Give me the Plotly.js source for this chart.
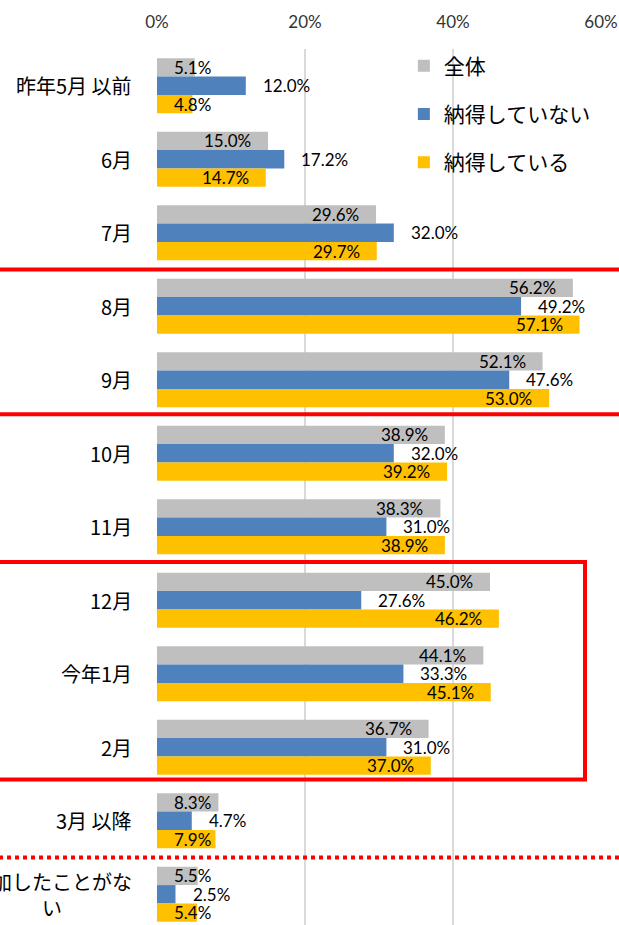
<!DOCTYPE html>
<html><head><meta charset="utf-8">
<script src="https://cdn.plot.ly/plotly-3.0.1.min.js"></script>
<style>html,body{margin:0;padding:0;background:#fff;overflow:hidden}#chart{width:619px;height:925px}</style>
</head><body><div id="chart"></div>
<script>
const categories = ['昨年5月以前','6月','7月','8月','9月','10月','11月','12月','今年1月','2月','3月以降','参加したことがない'];
const categoryLabels = ['昨年5月\u00a0以前','6月','7月','8月','9月','10月','11月','12月','今年1月','2月','3月\u00a0以降','参加したことがな<br>い'];
const seriesNames = ['全体','納得していない','納得している'];
const allValues = [5.1,15.0,29.6,56.2,52.1,38.9,38.3,45.0,44.1,36.7,8.3,5.5];
const notSatisfied = [12.0,17.2,32.0,49.2,47.6,32.0,31.0,27.6,33.3,31.0,4.7,2.5];
const satisfied = [4.8,14.7,29.7,57.1,53.0,39.2,38.9,46.2,45.1,37.0,7.9,5.4];
const xTickVals = [0,20,40,60];
const xTickText = ['0%','20%','40%','60%'];

const colors = ['#bfbfbf','#4f81bd','#ffc000'];
const series = [allValues, notSatisfied, satisfied];
const labelModes = ['inside','outside','inside'];
const labelShifts = [18.3, 0, -18.3];

const W = 619, H = 925;
const margin = {l:157, r:18, t:49, b:0};
const xMax = 60;
const pxPerUnit = (W - margin.l - margin.r) / xMax;
const CJK = '"Noto Sans CJK JP", "Noto Sans", sans-serif';
const LAT = 'Lato, "Open Sans", sans-serif';

const traces = series.map((vals, s) => ({
  type: 'bar', orientation: 'h', name: seriesNames[s],
  x: vals, y: categories,
  marker: {color: colors[s]},
  legendgroup: 'g' + s,
  hoverinfo: 'skip'
}));

const annotations = [];
series.forEach((vals, s) => {
  vals.forEach((v, i) => {
    const txt = v.toFixed(1) + '%';
    const textW = txt.length * 9.7;
    let a = {xref:'x', yref:'y', y: categories[i], yshift: labelShifts[s], text: txt,
      showarrow:false, font:{family:LAT, size:17, color:'#000'}};
    if (labelModes[s] === 'outside') {
      Object.assign(a, {x: v, xanchor:'left', xshift: 15});
    } else if (v * pxPerUnit - 32 < textW) {
      Object.assign(a, {x: 0, xanchor:'left', xshift: 15});
    } else {
      Object.assign(a, {x: v, xanchor:'right', xshift: -15});
    }
    annotations.push(a);
  });
});
categoryLabels.forEach((lab, i) => {
  annotations.push({xref:'paper', yref:'y', x:0, y:categories[i], xanchor:'right', xshift:-23,
    text: lab, align:'center', showarrow:false, font:{family:CJK, size:20, color:'#000'}});
});

const red = '#ff0000';
const shapes = [
  {type:'line', xref:'paper', yref:'y', x0:-0.5, x1:1.2, y0:2.5, y1:2.5, line:{color:red, width:4}},
  {type:'line', xref:'paper', yref:'y', x0:-0.5, x1:1.2, y0:4.47, y1:4.47, line:{color:red, width:4}},
  {type:'rect', xref:'paper', yref:'y', x0:-0.5, x1:0.964, y0:6.48, y1:9.44, line:{color:red, width:4}},
  {type:'line', xref:'paper', yref:'y', x0:-0.5, x1:1.2, y0:10.5, y1:10.5, line:{color:red, width:4, dash:'dot'}}
];

const layout = {
  width: W, height: H, margin: margin,
  paper_bgcolor:'#fff', plot_bgcolor:'#fff',
  barmode:'group', bargap:0.25, bargroupgap:0,
  showlegend:true,
  legend:{x:0.556, y:1.004, xanchor:'left', yanchor:'top', bgcolor:'rgba(0,0,0,0)',
    font:{family:CJK, size:21, color:'#000'}, traceorder:'grouped', tracegroupgap:18},
  xaxis:{side:'top', range:[0, xMax], tickvals:xTickVals, ticktext:xTickText,
    showgrid:true, gridcolor:'#d9d9d9', gridwidth:2, zeroline:false, showline:false,
    ticks:'', ticklabelstandoff:17, tickfont:{family:LAT, size:17, color:'#333'}, fixedrange:true},
  yaxis:{type:'category', categoryorder:'array', categoryarray:categories,
    range:[11.418, -0.5], showticklabels:false, showgrid:false, zeroline:false, showline:false, ticks:'', fixedrange:true},
  annotations: annotations,
  shapes: shapes
};

Plotly.newPlot('chart', traces, layout, {displayModeBar:false, staticPlot:true});
</script></body></html>
